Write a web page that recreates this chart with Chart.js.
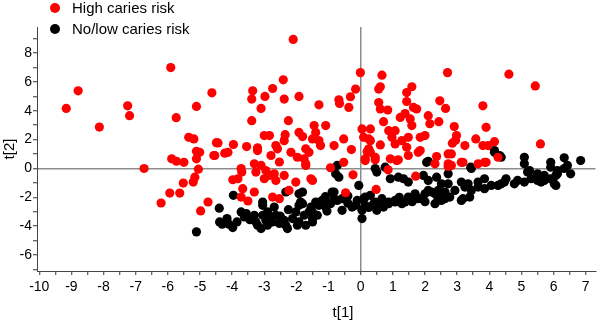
<!DOCTYPE html>
<html>
<head>
<meta charset="utf-8">
<script src="https://cdn.jsdelivr.net/npm/chart.js@4.4.1/dist/chart.umd.min.js"></script>
<style>
  html, body { margin: 0; padding: 0; background: #fff; }
  #wrap { width: 600px; height: 324px; position: relative; }
</style>
</head>
<body>
<div id="wrap"><canvas id="scatter"></canvas></div>
<script>
// series names
const seriesNames = ["High caries risk", "No/low caries risk"];

// t[1], t[2] scores
const highRisk = [
  [-9.16,4.16],[-8.79,5.38],[-8.13,2.87],[-7.25,4.34],[-7.19,3.66],[-5.91,6.99],[-4.63,5.24],[-5.11,4.30],
  [-5.74,3.52],[-5.35,2.16],[-5.19,2.05],[-4.49,1.79],[-4.57,0.90],[-5.11,1.19],[-5.01,1.12],[-5.11,0.67],
  [-5.88,0.67],[-5.73,0.50],[-5.50,0.43],[-6.74,0.00],[-5.05,-0.05],
  [-6.21,-2.39],[-5.94,-1.70],[-5.63,-1.70],[-5.52,-1.01],[-5.21,-0.94],[-5.16,-0.60],[-4.98,-2.94],[-4.75,-2.32],
  [-3.98,-0.78],[-3.82,-0.71],[-3.70,-0.25],[-3.67,-1.40],[-3.72,-1.98],[-3.51,-2.25],[-3.31,-1.63],[-2.74,-1.98],
  [-2.53,-2.09],[-2.23,-1.52],[-2.02,-0.94],[-1.55,-0.71],
  [-3.31,0.32],[-3.10,0.21],[-3.26,-0.25],[-2.95,-0.14],[-3.00,-0.71],[-2.84,-0.48],[-2.69,-0.37],[-2.64,-0.83],
  [-2.53,0.45],[-2.38,-0.48],[-1.71,0.32],[-2.79,0.90],[-3.21,1.24],[-3.72,0.00],
  [-2.10,8.94],[-2.41,6.14],[-2.74,5.54],[-3.36,5.38],[-3.39,4.81],[-2.98,4.99],[-2.38,4.81],[-1.92,4.99],
  [-3.10,4.16],[-1.30,4.41],[-0.68,4.76],[-0.66,4.50],[-0.32,4.97],[-0.16,5.50],[-0.37,4.23],[-0.01,6.64],
  [-3.39,3.31],[-2.25,3.31],[-4.44,1.77],[-3.96,1.66],[-4.13,1.12],[-4.23,1.06],[-4.54,0.90],[-3.55,1.52],
  [-3.21,1.43],[-3.00,2.28],[-2.84,2.28],[-2.35,2.34],[-2.38,1.93],[-2.64,1.59],[-2.59,1.36],[-1.92,2.50],
  [-1.81,2.21],[-2.17,1.12],[-1.97,0.78],[-1.76,0.67],[-1.45,2.97],[-1.40,2.50],[-1.50,2.05],[-1.30,1.93],
  [-1.09,2.97],[-1.25,1.59],[-1.71,1.36],[-1.61,1.12],[-0.83,1.59],[-0.53,2.05],[-0.29,1.31],[-1.71,0.21],
  [-0.53,0.43],[-0.94,0.05],
  [0.04,2.74],[0.30,2.74],[0.09,2.16],[0.25,2.05],[0.25,1.36],[0.14,0.67],[0.45,0.78],[0.20,1.18],
  [0.66,6.46],[0.61,5.66],[0.56,5.50],[0.56,4.57],[0.61,4.12],[0.84,4.05],[0.71,3.24],[0.30,1.93],
  [0.61,1.63],[0.87,2.62],[1.07,2.62],[0.97,2.16],[1.07,1.70],[0.45,0.60],[0.30,1.12],[0.92,0.67],
  [1.17,0.60],[1.28,1.93],[1.43,1.47],[1.48,0.90],[1.23,3.54],[1.38,3.81],[1.54,3.43],[1.59,2.97],
  [1.48,2.16],[1.43,5.26],[1.59,5.66],[1.43,4.64],[1.64,4.23],[1.74,4.12],[1.85,2.16],[2.00,2.28],
  [1.85,1.24],[2.10,3.66],[2.15,3.10],[2.43,3.24],[2.46,4.69],[2.64,4.16],[2.70,6.64],[2.91,2.90],
  [2.98,2.28],[2.85,1.75],[2.95,1.95],[2.82,1.01],[3.24,1.59],[3.18,0.43],[2.36,0.83],[2.31,0.32],
  [2.72,0.32],[2.82,0.21],[3.58,2.05],[3.80,4.34],[3.90,2.85],[3.80,1.59],[3.96,1.59],[4.16,1.86],
  [3.90,0.43],[3.65,0.32],[4.27,0.78],[4.61,6.53],[5.43,5.72],[5.59,1.70],[1.79,1.12],[2.72,1.01],
  [1.12,0.55],[0.14,0.55],
  [-0.24,-0.44],[-0.47,-1.68],[-1.50,-0.83],[0.85,-0.09],[0.48,-1.45],[1.71,-0.53],[2.72,0.14],[3.13,0.43],
  [3.85,0.43]
];

const lowRisk = [
  [-5.11,-4.39],[-4.40,-2.75],[-4.39,-3.70],[-4.16,-3.47],[-4.10,-3.86],[-3.98,-4.09],[-4.31,-3.86],[-3.96,-1.86],
  [-3.72,-3.01],[-3.56,-3.12],[-3.62,-3.36],[-3.26,-3.70],[-3.21,-3.93],[-3.10,-4.16],[-3.31,-3.24],[-3.05,-2.55],
  [-2.90,-3.01],[-3.05,-3.24],[-2.79,-3.36],[-2.74,-3.70],[-2.69,-2.67],[-2.64,-3.24],[-2.90,-3.93],[-2.53,-3.81],
  [-2.38,-3.59],[-2.33,-3.93],[-2.28,-4.16],[-2.12,-3.47],[-2.02,-3.01],[-1.92,-2.55],[-1.81,-1.63],[-1.87,-2.32],
  [-1.61,-3.01],[-1.50,-3.47],[-1.71,-3.93],[-1.97,-3.93],[-2.33,-1.63],[-3.05,-2.32],[-1.92,-1.75],
  [-1.92,-3.70],[-1.50,-3.70],[-1.76,-3.24],[-1.55,-2.90],[-1.30,-2.55],[-1.14,-2.21],[-0.94,-2.44],[-0.83,-1.63],
  [-0.58,-2.90],[-0.73,-2.21],[-1.81,-2.44],[0.04,-3.47],[-0.27,-2.67],[-0.11,-2.21],[0.14,-1.98],[0.04,-2.90],
  [0.40,-2.44],[0.50,-2.90],[0.30,-1.86],[0.66,-2.09],[0.87,-2.32],[1.07,-2.21],[1.28,-2.44],[1.48,-2.09],
  [1.69,-1.86],[1.79,-2.09],[2.00,-1.75],[2.20,-1.63],[2.41,-1.52],[2.62,-1.63],[2.31,-2.44],[2.51,-2.21],
  [2.77,-1.98],[2.93,-1.52],[3.24,-1.29],[3.18,-2.09],[3.44,-1.52],[3.65,-1.29],[3.85,-1.40],[4.06,-1.17],
  [4.27,-1.17],[4.47,-0.94],[4.78,-1.06],[5.09,-0.94],[5.30,-0.71],[5.50,-0.83],[5.71,-0.83],[5.91,-0.71],
  [6.07,-1.17],[5.19,-0.25],[5.50,-0.37],[5.91,0.09],[6.12,-0.37],[6.33,0.00],[6.43,0.21],[6.53,-0.37],
  [6.84,0.55],[5.09,0.78],[5.09,0.32],[5.91,0.43],[6.33,0.74],[6.12,-0.14],[6.07,-0.48],
  [4.37,0.78],[4.16,1.12],[3.44,0.00],[2.72,-0.37],[3.13,-0.94],[3.13,-2.21],[3.39,-1.98],[3.34,-1.06],
  [3.65,-0.94],[3.85,-0.71],[4.37,-1.06],[4.52,-0.71],[4.88,-0.83],[5.25,-0.14],[5.45,-0.60],[5.61,-0.94],
  [5.71,-0.48],[6.02,-1.06],
  [-0.73,0.21],[-0.78,-0.37],[-0.68,-0.60],[-0.06,-1.17],[0.50,-0.25],[0.76,0.09],[0.92,-0.71],[1.17,-0.60],
  [1.33,-0.71],[1.48,-0.94],[1.95,-0.48],[2.05,0.43],[2.10,-0.83],[2.36,-0.60],[2.51,-1.06],[2.72,-1.06],
  [2.62,-2.09],[-0.89,-1.63],[-1.20,-2.21],[-1.40,-2.32],[-1.55,-2.67],[-1.50,-3.01],[-1.35,-3.24],[-1.09,-2.67],
  [-0.83,-2.09],[-0.58,-2.09],[-0.16,-2.55],[0.09,-2.09],[0.14,-2.55],[0.45,-2.32],[0.71,-2.67],[0.87,-2.44],
  [1.07,-2.32],[1.38,-2.32],[1.48,-1.98],[1.69,-1.75],[1.90,-2.09],[2.10,-1.52],[2.31,-1.75],[2.51,-1.98],
  [4.16,1.24],[4.32,0.90],[2.10,0.50],[3.42,0.09],[0.45,0.00],
  [-3.45,-3.55],[-2.50,-3.30],[-2.25,-2.85],[-1.05,-2.95],[-0.40,-2.40],[0.25,-2.70],[0.62,-2.45],[1.20,-2.00],
  [1.60,-2.30],[2.00,-2.30],[2.40,-2.00],[-3.85,-3.70],[-2.95,-3.60],[-0.40,-1.90],[-1.10,-1.95]
];

// tick labels
const xTickLabels = [-10, -9, -8, -7, -6, -5, -4, -3, -2, -1, 0, 1, 2, 3, 4, 5, 6, 7];
const yTickLabels = [-6, -4, -2, 0, 2, 4, 6, 8];

const seriesColors = ["#ff0000", "#000000"];
const FONT = "'Liberation Sans', Arial, sans-serif";

// tick marks every half unit on x, every unit on y
const xTickMarks = [];
for (let v = -10; v <= 7; v += 0.5) xTickMarks.push(v);
const yTickMarks = [];
for (let v = -7; v <= 9; v += 1) yTickMarks.push(v);

const toPoints = arr => arr.map(p => ({ x: p[0], y: p[1] }));

// legend + x title drawn by hand
const extras = {
  id: 'extras',
  afterDraw(chart) {
    const ctx = chart.ctx;
    ctx.save();
    ctx.font = '15px ' + FONT;
    ctx.textBaseline = 'middle';
    ctx.textAlign = 'left';
    seriesNames.forEach((name, i) => {
      const y = 8 + i * 21;
      ctx.fillStyle = seriesColors[i];
      ctx.beginPath();
      ctx.arc(55, y, 5, 0, Math.PI * 2);
      ctx.fill();
      ctx.fillStyle = '#000';
      ctx.fillText(name, 72, y + 1);
    });
    ctx.textAlign = 'center';
    ctx.fillText('t[1]', 343, 313);
    ctx.restore();
  }
};

const zeroLine = c => (c.tick && c.tick.value === 0) ? '#8c8c8c' : 'rgba(0,0,0,0)';

const scatter = document.getElementById("scatter");
var myChart = new Chart(scatter, {
  type: 'scatter',
  data: {
    datasets: [
      {
        label: seriesNames[0],
        data: toPoints(highRisk),
        backgroundColor: seriesColors[0],
        borderWidth: 0,
        pointRadius: 4.6,
      },
      {
        label: seriesNames[1],
        data: toPoints(lowRisk),
        backgroundColor: seriesColors[1],
        borderWidth: 0,
        pointRadius: 4.6,
      },
    ],
  },
  options: {
    responsive: true,
    maintainAspectRatio: false,
    animation: false,
    layout: { padding: { top: 27, right: 2, left: 0, bottom: 0 } },
    plugins: {
      legend: { display: false },
      tooltip: { enabled: false },
    },
    scales: {
      x: {
        type: 'linear',
        min: -10.07,
        max: 7.3,
        afterFit: s => { s.height = 53; },
        afterBuildTicks: s => { s.ticks = xTickMarks.map(v => ({ value: v })); },
        ticks: {
          autoSkip: false,
          maxRotation: 0,
          padding: 4,
          color: '#000',
          font: { family: FONT, size: 14 },
          callback: v => xTickLabels.includes(v) ? String(v) : '',
        },
        grid: {
          color: zeroLine,
          lineWidth: 1.5,
          tickColor: '#333',
          tickWidth: 1,
          tickLength: 4,
        },
        border: { color: '#444', width: 1 },
      },
      y: {
        type: 'linear',
        min: -7.1,
        max: 9.8,
        afterFit: s => { s.width = 37; },
        afterBuildTicks: s => { s.ticks = yTickMarks.map(v => ({ value: v })); },
        ticks: {
          autoSkip: false,
          padding: 1,
          color: '#000',
          font: { family: FONT, size: 14 },
          callback: v => yTickLabels.includes(v) ? String(v) : '',
        },
        grid: {
          color: zeroLine,
          lineWidth: 1.5,
          tickColor: '#333',
          tickWidth: 1,
          tickLength: 4,
        },
        border: { color: '#444', width: 1 },
        title: {
          display: true,
          text: 't[2]',
          color: '#000',
          font: { family: FONT, size: 15 },
          padding: { top: 1, bottom: 0 },
        },
      },
    },
  },
  plugins: [extras],
});
</script>
</body>
</html>
